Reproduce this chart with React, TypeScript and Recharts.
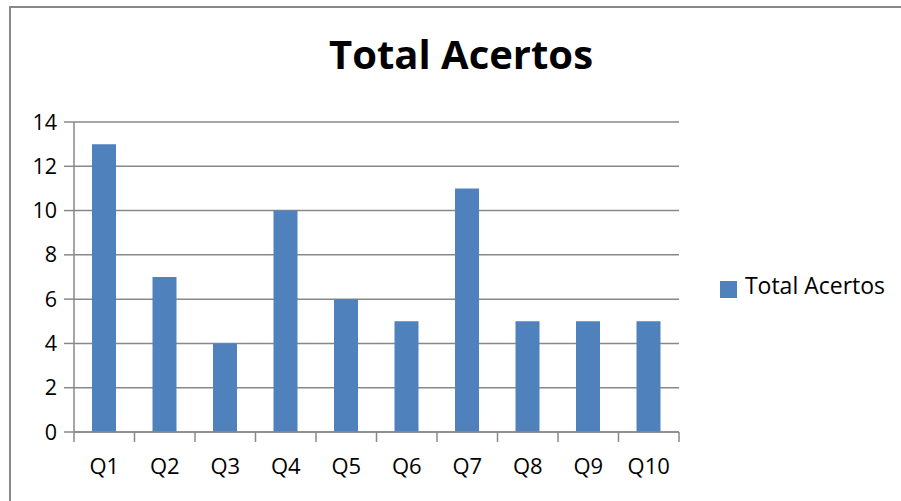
import { BarChart, Bar, XAxis, YAxis, CartesianGrid, Legend } from "recharts";

const questions = ["Q1", "Q2", "Q3", "Q4", "Q5", "Q6", "Q7", "Q8", "Q9", "Q10"];
const totalAcertos = [13, 7, 4, 10, 6, 5, 11, 5, 5, 5];
const yTicks = [0, 2, 4, 6, 8, 10, 12, 14];
const boundTicks = [0, 1, 2, 3, 4, 5, 6, 7, 8, 9, 10];

const chartData = questions.map((q, i) => ({ q, idx: i + 0.5, total: totalAcertos[i] }));

const FONT = "'Open Sans', 'DejaVu Sans', sans-serif";
const AXIS = "#888888";

function YTick({ x, y, payload }: any) {
    return <text x={x} y={y} dy="0.355em" textAnchor="end" fontSize={21.5} fontFamily={FONT} fill="#000">{payload.value}</text>;
}

function XTick({ x, y, payload }: any) {
    return <text x={x} y={y} dy="0.71em" textAnchor="middle" fontSize={22} fontFamily={FONT} fill="#000">{payload.value}</text>;
}

const NoLabel = () => <g />;

export default function App() {
    return (
        <div style={{ position: "absolute", left: 0, top: 0, width: 901, height: 501, overflow: "hidden", background: "#fff", fontFamily: FONT }}>
            <div style={{ position: "absolute", left: 9, top: 6, width: 940, height: 540, border: `2px solid ${AXIS}` }} />
            <div style={{ position: "absolute", left: 0, top: 26, width: 922, textAlign: "center", fontSize: 40, fontWeight: 700, color: "#000", lineHeight: "56px" }}>
                Total Acertos
            </div>
            <div style={{ position: "absolute", left: 0, top: 0 }}>
                <BarChart width={901} height={501} data={chartData} margin={{ top: 122, right: 222, left: 0, bottom: 9 }}>
                    <CartesianGrid vertical={false} stroke={AXIS} strokeWidth={1.5} />
                    <XAxis xAxisId="bounds" type="number" dataKey="idx" domain={[0, 10]} ticks={boundTicks}
                        tick={NoLabel} tickSize={10} height={10} stroke={AXIS} strokeWidth={1.5} />
                    <XAxis xAxisId="cat" dataKey="q" axisLine={false} tickLine={false} tickSize={0} tickMargin={16} height={50}
                        tick={XTick} interval={0} />
                    <YAxis domain={[0, 14]} ticks={yTicks} width={74} tickSize={10} tickMargin={7} stroke={AXIS} strokeWidth={1.5}
                        tick={YTick} />
                    <Legend layout="horizontal" verticalAlign="middle" align="center" iconType="square" iconSize={17}
                        wrapperStyle={{ left: 715, top: 269, width: 185 }}
                        formatter={(v) => <span style={{ color: "#000", fontSize: 23, fontFamily: FONT, marginLeft: 4 }}>{v}</span>} />
                    <Bar xAxisId="cat" dataKey="total" name="Total Acertos" fill="#4F81BD" barSize={24} isAnimationActive={false} />
                </BarChart>
            </div>
        </div>
    );
}
